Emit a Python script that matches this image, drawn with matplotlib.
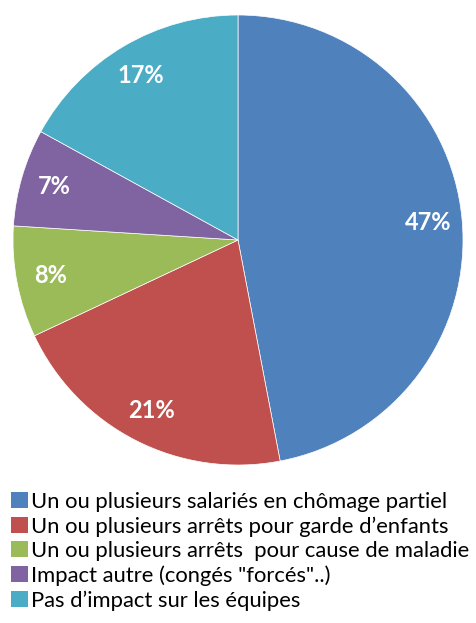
import matplotlib.pyplot as plt
from matplotlib.patches import Patch

labels = [
    "Un ou plusieurs salariés en chômage partiel",
    "Un ou plusieurs arrêts pour garde d\u2019enfants",
    "Un ou plusieurs arrêts  pour cause de maladie",
    "Impact autre (congés \"forcés\"..)",
    "Pas d\u2019impact sur les équipes",
]
values = [47, 21, 8, 7, 17]
colors = ["#4F81BD", "#C0504D", "#9BBB59", "#8064A2", "#4BACC6"]

plt.rcParams["font.family"] = ["Lato", "DejaVu Sans"]

fig = plt.figure(figsize=(4.77, 6.23), dpi=100)
ax = fig.add_axes([13 / 477, 1 - 465 / 623, 450 / 477, 450 / 623])

wedges, texts, autotexts = ax.pie(
    values, colors=colors, startangle=90, counterclock=False,
    autopct="%d%%", pctdistance=0.85,
    wedgeprops=dict(edgecolor="white", linewidth=0.5),
    textprops=dict(color="white", fontsize=17, fontweight="bold"),
)
ax.set_xlim(-1, 1)
ax.set_ylim(-1, 1)
ax.set_aspect("equal")

handles = [Patch(facecolor=c, edgecolor="none") for c in colors]
fig.legend(handles, labels, loc="upper left", bbox_to_anchor=(0.005, 1 - 483 / 623),
           frameon=False, fontsize=15.8, handlelength=0.75, handleheight=0.75,
           handletextpad=0.15, labelspacing=0.2, borderaxespad=0.2,
           borderpad=0.2)

fig.savefig("out.png", dpi=100)
